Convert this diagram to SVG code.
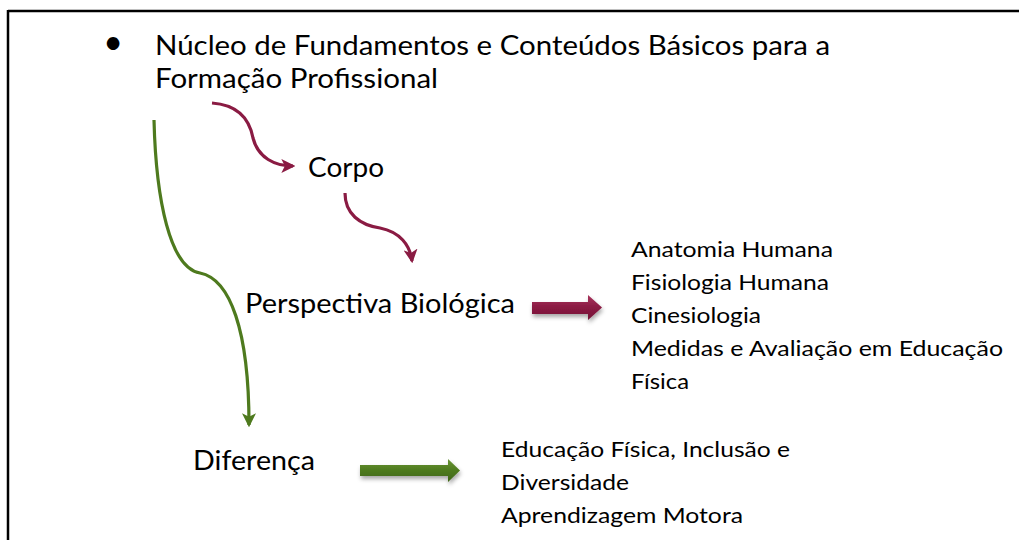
<svg xmlns="http://www.w3.org/2000/svg" width="1019" height="540" viewBox="0 0 1019 540">
  <style>
    .t { font-family: Lato, "Open Sans", "Liberation Sans", sans-serif; fill: #000; }
    .big { font-size: 27px; }
    .small { font-size: 22px; }
    .crv { fill: none; stroke-width: 3.2; stroke-linecap: butt; }
    .red { stroke: #8A1B43; }
    .grn { stroke: #4E7A1E; }
  </style>
  <defs>
    <marker id="ahRed" markerUnits="userSpaceOnUse" markerWidth="14" markerHeight="14" viewBox="0 0 12 12" refX="10" refY="6" orient="auto">
      <path d="M0,0 L12,6 L0,12 L3,6 Z" fill="#8A1B43"/>
    </marker>
    <marker id="ahGrn" markerUnits="userSpaceOnUse" markerWidth="14" markerHeight="14" viewBox="0 0 12 12" refX="10" refY="6" orient="auto">
      <path d="M0,0 L12,6 L0,12 L3,6 Z" fill="#4E7A1E"/>
    </marker>
    <linearGradient id="gRed" x1="0" y1="0" x2="0" y2="1">
      <stop offset="0" stop-color="#A8345C"/>
      <stop offset="0.5" stop-color="#8A1B43"/>
      <stop offset="1" stop-color="#741236"/>
    </linearGradient>
    <linearGradient id="gGrn" x1="0" y1="0" x2="0" y2="1">
      <stop offset="0" stop-color="#6A9636"/>
      <stop offset="0.5" stop-color="#4E7A1E"/>
      <stop offset="1" stop-color="#3E6516"/>
    </linearGradient>
    <filter id="sh" x="-20%" y="-50%" width="140%" height="220%">
      <feDropShadow dx="1" dy="3" stdDeviation="2" flood-color="#000" flood-opacity="0.35"/>
    </filter>
  </defs>

  <rect x="0" y="0" width="1019" height="540" fill="#fff"/>
  <g id="frame" stroke="#000" stroke-width="2.5" fill="none">
    <line x1="8" y1="11" x2="1019" y2="11"/>
    <line x1="8" y1="10" x2="8" y2="540"/>
  </g>

  <g id="title">
    <text class="t" x="113" y="54" text-anchor="middle" font-size="34">•</text>
    <text class="t big" x="155" y="55" textLength="675" lengthAdjust="spacingAndGlyphs">Núcleo de Fundamentos e Conteúdos Básicos para a</text>
    <text class="t big" x="155" y="88" textLength="283" lengthAdjust="spacingAndGlyphs">Formação Profissional</text>
  </g>

  <g id="corpo">
    <text class="t big" x="308" y="177" textLength="76" lengthAdjust="spacingAndGlyphs">Corpo</text>
  </g>

  <g id="perspectiva">
    <text class="t big" x="245" y="313" textLength="270" lengthAdjust="spacingAndGlyphs">Perspectiva Biológica</text>
  </g>

  <g id="diferenca">
    <text class="t big" x="193" y="470" textLength="122" lengthAdjust="spacingAndGlyphs">Diferença</text>
  </g>

  <g id="lista-biologica">
    <text class="t small" x="631" y="257" textLength="202" lengthAdjust="spacingAndGlyphs">Anatomia Humana</text>
    <text class="t small" x="631" y="290" textLength="198" lengthAdjust="spacingAndGlyphs">Fisiologia Humana</text>
    <text class="t small" x="631" y="323" textLength="130" lengthAdjust="spacingAndGlyphs">Cinesiologia</text>
    <text class="t small" x="631" y="356" textLength="372" lengthAdjust="spacingAndGlyphs">Medidas e Avaliação em Educação</text>
    <text class="t small" x="631" y="389" textLength="58" lengthAdjust="spacingAndGlyphs">Física</text>
  </g>

  <g id="lista-diferenca">
    <text class="t small" x="501" y="457" textLength="289" lengthAdjust="spacingAndGlyphs">Educação Física, Inclusão e</text>
    <text class="t small" x="501" y="490" textLength="128" lengthAdjust="spacingAndGlyphs">Diversidade</text>
    <text class="t small" x="501" y="523" textLength="242" lengthAdjust="spacingAndGlyphs">Aprendizagem Motora</text>
  </g>

  <g id="connectors">
    <path class="crv red" d="M212,103 C240,105 250,122 253,138 C258,158 275,166 293,166" marker-end="url(#ahRed)"/>
    <path class="crv red" d="M345,193 C345,214 360,225 380,228 C400,232 410,245 412,261" marker-end="url(#ahRed)"/>
    <path class="crv grn" d="M154,120 C156,200 170,268 200,273 C230,279 249,330 249,425" marker-end="url(#ahGrn)"/>
    <path d="M532,302 L588,302 L588,295 L602,307.5 L588,320 L588,314 L532,314 Z" fill="url(#gRed)" filter="url(#sh)"/>
    <path d="M360,465 L448,465 L448,459 L460,470.5 L448,482 L448,476 L360,476 Z" fill="url(#gGrn)" filter="url(#sh)"/>
  </g>
</svg>
